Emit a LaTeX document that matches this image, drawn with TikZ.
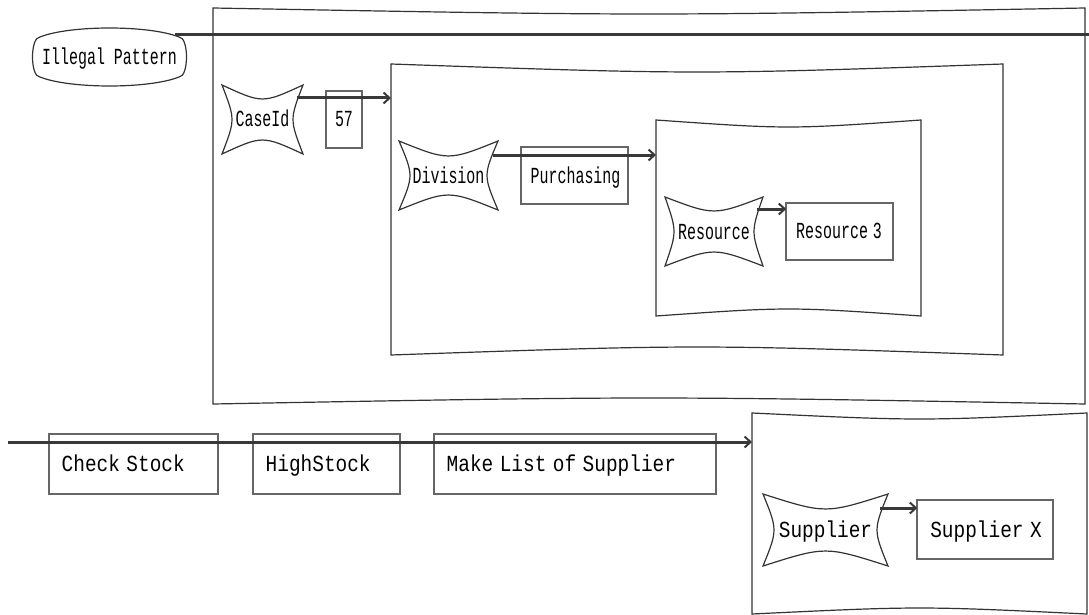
\documentclass[tikz,border=0pt]{standalone}
\usepackage{fontspec}
\usepackage{graphicx}
\usetikzlibrary{calc,arrows.meta}

\newfontfamily\labelfont{Liberation Mono}

% horizontally condensed typewriter text, two widths
\newcommand{\wtx}[1]{\scalebox{0.845}[1]{#1}}
\newcommand{\ntx}[1]{\scalebox{0.65}[1]{#1}}

\definecolor{ink}{HTML}{333333}
\definecolor{boxgray}{HTML}{666666}
\definecolor{flowgray}{HTML}{383838}

% bowed container: top and bottom edges bend inwards
\newcommand{\tray}[2]{%
  \draw[ink, line width=1.2pt]
    (#1.north west) .. controls ($(#1.north)+(0,1.33*#2)$) .. (#1.north east)
    -- (#1.south east)
    .. controls ($(#1.south)+(0,-1.33*#2)$) .. (#1.south west) -- cycle;}

% key shape with four concave sides
\newcommand{\cave}[3]{%
  \draw[ink, line width=1.2pt]
    (#1.north west) .. controls ($(#1.north)+(0,1.33*#3)$) .. (#1.north east)
    .. controls ($(#1.east)+(-1.33*#2,0)$) .. (#1.south east)
    .. controls ($(#1.south)+(0,-1.33*#3)$) .. (#1.south west)
    .. controls ($(#1.west)+(1.33*#2,0)$) .. cycle;}

\begin{document}
\begin{tikzpicture}[x=1pt, y=-1pt,
  every node/.style={font=\labelfont\fontsize{23}{25}\selectfont,
    text height=15pt, text depth=0pt, inner sep=0pt, outer sep=0pt},
  holder/.style={draw=none},
  valbox/.style={draw=boxgray, line width=2pt, align=left},
  flow/.style={draw=flowgray, line width=3pt,
    -{Straight Barb[length=6pt, width=11pt, line width=2pt]}},
  trail/.style={draw=flowgray, line width=3pt}]

\useasboundingbox (0,0) rectangle (1089,615);

% ---------- containers ----------
\node[holder, minimum width=872pt, minimum height=396pt] (c1) at (649,206) {};
\node[holder, minimum width=612pt, minimum height=291pt] (c2) at (697,209.5) {};
\node[holder, minimum width=265pt, minimum height=196pt] (c3) at (788.5,218) {};
\node[holder, minimum width=335pt, minimum height=201pt] (c4) at (919.5,513.5) {};
\tray{c1}{6}
\tray{c2}{8}
\tray{c3}{7}
\tray{c4}{6}

% ---------- pattern label ----------
\node[holder, minimum width=153pt, minimum height=58pt] (ip) at (109.5,57) {\ntx{Illegal Pattern}};
\draw[ink, line width=1.2pt]
  ($(ip.north west)+(7,9)$)
    .. controls ($(ip.north west)+(37,-3)$) and ($(ip.north east)+(-37,-3)$) .. ($(ip.north east)+(-7,9)$)
    .. controls ($(ip.north east)+(3,9)$) and ($(ip.south east)+(3,-9)$) .. ($(ip.south east)+(-7,-9)$)
    .. controls ($(ip.south east)+(-37,3)$) and ($(ip.south west)+(37,3)$) .. ($(ip.south west)+(7,-9)$)
    .. controls ($(ip.south west)+(-3,-9)$) and ($(ip.north west)+(-3,9)$) .. cycle;
\coordinate (ipend) at (1089,35);
\draw[trail] ($(ip.north east)+(-11,7)$) -- (ipend);

% ---------- attribute keys ----------
\node[holder, minimum width=81pt, minimum height=69pt] (caseid) at (262.5,119.5) {\ntx{CaseId}};
\node[holder, minimum width=99pt, minimum height=69pt] (division) at (448.5,175.5) {\ntx{Division}};
\node[holder, minimum width=98pt, minimum height=69pt] (resource) at (714,231.5) {\ntx{Resource}};
\node[holder, minimum width=125pt, minimum height=72pt] (supplier) at (825.5,530) {\wtx{Supplier}};
\cave{caseid}{10}{14}
\cave{division}{11}{15}
\cave{resource}{9}{14}
\cave{supplier}{11}{15}

% ---------- values ----------
\node[valbox, inner xsep=9pt, text width=18pt, minimum height=57pt] (v57) at (344,119.5) {\ntx{57}};
\node[valbox, inner xsep=10pt, text width=87pt, minimum height=57pt] (purch) at (574.2,175.5) {\ntx{Purchasing}};
\node[valbox, inner xsep=10pt, text width=87pt, minimum height=57pt] (res3) at (839.7,231.3) {\ntx{Resource 3}};
\node[valbox, inner xsep=13pt, text width=110pt, minimum height=59pt] (supx) at (985.3,529.7) {\wtx{Supplier X}};

% ---------- activities ----------
\node[valbox, inner xsep=12.5pt, text width=144pt, minimum height=60pt] (check) at (133.7,464.3) {\wtx{Check Stock}};
\node[valbox, inner xsep=12.5pt, text width=122pt, minimum height=60pt] (high) at (326.7,464.3) {\wtx{HighStock}};
\node[valbox, inner xsep=12.5pt, text width=257pt, minimum height=60pt] (make) at (575.2,464.3) {\wtx{Make List of Supplier}};

% ---------- connectors ----------
\coordinate (a1) at ($(caseid.north east)+(-6,13)$);
\coordinate (a2) at ($(division.north east)+(-5,14)$);
\coordinate (a3) at ($(resource.north east)+(-6,12)$);
\coordinate (a4) at ($(supplier.north east)+(-8,14)$);
\coordinate (start) at (8,442);
\draw[flow] (a1) -- (a1 -| c2.west);
\draw[flow] (a2) -- (a2 -| c3.west);
\draw[flow] (a3) -- (a3 -| res3.west);
\draw[flow] (a4) -- (a4 -| supx.west);
\draw[flow] (start) -- (start -| c4.west);

\end{tikzpicture}
\end{document}
